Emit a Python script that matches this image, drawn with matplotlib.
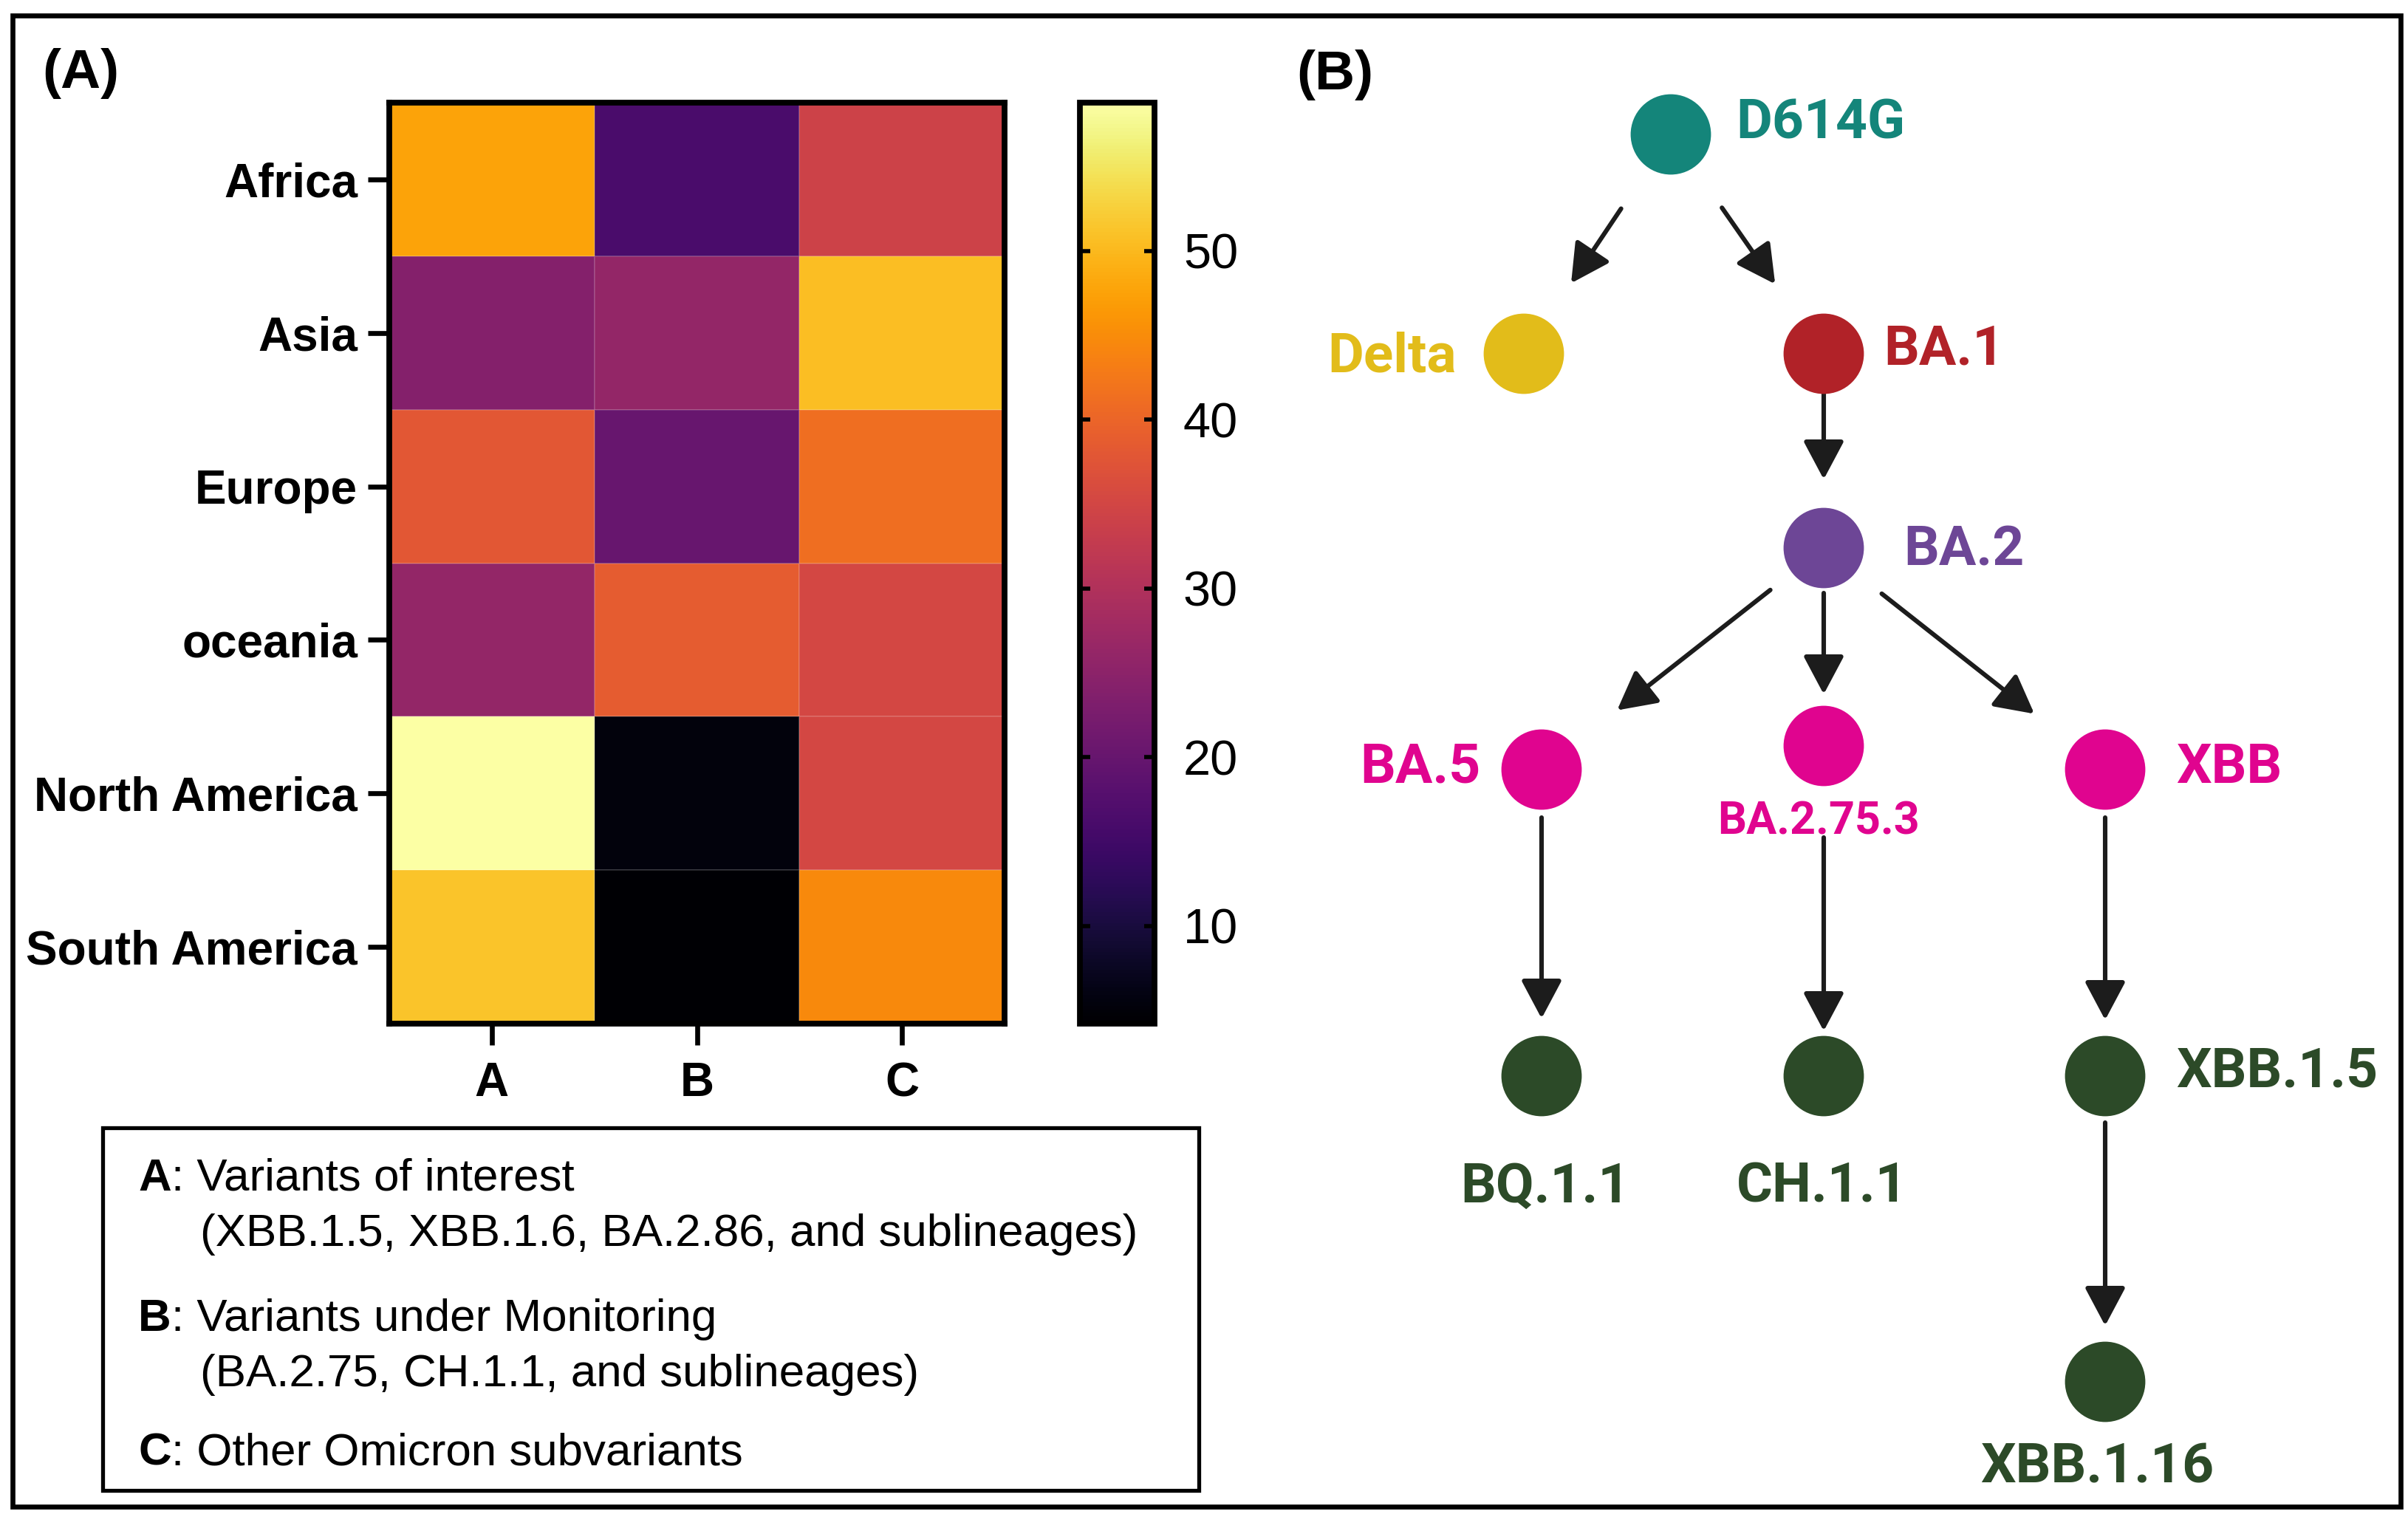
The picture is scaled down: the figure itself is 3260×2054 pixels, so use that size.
import numpy as np
import matplotlib.pyplot as plt
from matplotlib.patches import Circle, Rectangle, FancyArrowPatch

# ---- panel A data ----
regions = ['Africa', 'Asia', 'Europe', 'oceania', 'North America', 'South America']
groups = ['A', 'B', 'C']
vals_A = [47.5, 23.9, 38.0, 26.0, 58.8, 51.2]
vals_B = [16.2, 26.0, 20.0, 38.6, 5.3, 4.2]
vals_C = [34.2, 50.6, 41.3, 35.3, 35.3, 44.6]
cbar_ticks = [10, 20, 30, 40, 50]
vmin, vmax = 4.2, 58.8

legend_keys = ['A', 'B', 'C']
legend_titles = ['Variants of interest', 'Variants under Monitoring', 'Other Omicron subvariants']
legend_notes = ['(XBB.1.5, XBB.1.6, BA.2.86, and sublineages)',
                '(BA.2.75, CH.1.1, and sublineages)', '']

# ---- panel B data (lineage tree) ----
variants = ['D614G', 'Delta', 'BA.1', 'BA.2', 'BA.5', 'BA.2.75.3', 'XBB',
            'BQ.1.1', 'CH.1.1', 'XBB.1.5', 'XBB.1.16']
parents = [None, 'D614G', 'D614G', 'BA.1', 'BA.2', 'BA.2', 'BA.2',
           'BA.5', 'BA.2.75.3', 'XBB', 'XBB.1.5']

# layout of the tree (pixel positions on the canvas)
node_x = [2262, 2063, 2469, 2469, 2087, 2469, 2850, 2087, 2469, 2850, 2850]
node_y = [182, 479, 479, 742, 1042, 1010, 1042, 1457, 1457, 1457, 1871]
node_col = ['#14857a', '#e2bc1a', '#b12228', '#6d4696', '#e0048f', '#e0048f', '#e0048f',
            '#2c4a28', '#2c4a28', '#2c4a28', '#2c4a28']
# label offset from node centre (dx, dy to baseline, alignment)
lab_dx = [88, -91, 81, 108, -83, -7, 96, 5, -2, 96, -11]
lab_dy = [6, 25, 14, 23, 18, 119, 18, 171, 171, 15, 137]
lab_ha = ['left', 'right', 'left', 'left', 'right', 'center', 'left',
          'center', 'center', 'left', 'center']
# gap between arrow ends and node centres (start, end)
gap_a = [121, 121, 54, 92, 61, 100, 65, 124, 65, 63]
gap_b = [115, 115, 93, 130, 70, 122, 78, 61, 76, 76]

W, H = 3260, 2054
fig = plt.figure(figsize=(W / 200, H / 200), dpi=200)
fig.patch.set_facecolor('white')

# heatmap
data = np.array([vals_A, vals_B, vals_C]).T
ax = fig.add_axes([527 / W, 1 - 1386 / H, (1360 - 527) / W, (1386 - 139) / H])
mesh = ax.pcolormesh(data, cmap='inferno', vmin=vmin, vmax=vmax,
                     edgecolor=(1, 1, 1, 0.12), linewidth=0.6)
ax.set_xlim(0, 3)
ax.set_ylim(6, 0)
ax.set_xticks(np.arange(3) + 0.5)
ax.set_xticklabels(groups)
ax.set_yticks(np.arange(6) + 0.5)
ax.set_yticklabels(regions)
for lab in ax.get_xticklabels() + ax.get_yticklabels():
    lab.set_fontfamily('Liberation Sans')
    lab.set_fontweight('bold')
    lab.set_fontsize(23)
ax.tick_params(axis='y', length=10.5, width=2.4, pad=5)
ax.tick_params(axis='x', length=10.5, width=2.4, pad=8)
for s in ax.spines.values():
    s.set_linewidth(2.8)

# colorbar
cax = fig.add_axes([1462 / W, 1 - 1386 / H, (1563 - 1462) / W, (1386 - 139) / H])
cb = fig.colorbar(mesh, cax=cax)
cb.set_ticks(cbar_ticks)
cb.outline.set_linewidth(2.8)
cax.tick_params(direction='in', left=True, right=True, length=5, width=2,
                labelsize=24, pad=14)
for lab in cax.get_yticklabels():
    lab.set_fontfamily('Liberation Sans')

# overlay in pixel coordinates
ov = fig.add_axes([0, 0, 1, 1])
ov.set_xlim(0, W)
ov.set_ylim(H, 0)
ov.axis('off')
ov.patch.set_alpha(0)

ov.add_patch(Rectangle((17, 21), 3233, 2019, fill=False, lw=2.4, ec='black'))
ov.text(57, 100, '(A)', fontfamily='Liberation Sans', fontweight='bold',
        fontsize=27, ha='left', va='center')
ov.text(1755, 102, '(B)', fontfamily='Liberation Sans', fontweight='bold',
        fontsize=27, ha='left', va='center')

# legend box
ov.add_patch(Rectangle((139, 1527), 1484, 491, fill=False, lw=1.9, ec='black'))
base_y = [1612, 1802, 1984]
for k, (key, title, note) in enumerate(zip(legend_keys, legend_titles, legend_notes)):
    t = ov.text(187, base_y[k], key, fontfamily='Liberation Sans', fontweight='bold',
                fontsize=22.3, ha='left', va='baseline')
    ov.annotate(': ' + title, xy=(1, 0), xycoords=t, ha='left', va='bottom',
                fontfamily='Liberation Sans', fontsize=22.3)
    if note:
        ov.text(271, base_y[k] + 75, note, fontfamily='Liberation Sans',
                fontsize=22.3, ha='left', va='baseline')

# tree arrows
pos = {v: (x, y) for v, x, y in zip(variants, node_x, node_y)}
e = 0
for v, p in zip(variants, parents):
    if p is None:
        continue
    x0, y0 = pos[p]
    x1, y1 = pos[v]
    d = np.hypot(x1 - x0, y1 - y0)
    ux, uy = (x1 - x0) / d, (y1 - y0) / d
    arr = FancyArrowPatch((x0 + ux * gap_a[e], y0 + uy * gap_a[e]),
                          (x1 - ux * gap_b[e], y1 - uy * gap_b[e]),
                          arrowstyle='-|>,head_length=16,head_width=8.5',
                          shrinkA=0, shrinkB=0, lw=2.2, color='#1c1c1c',
                          mutation_scale=1, zorder=2)
    ov.add_patch(arr)
    e += 1

# tree nodes and labels
for i, v in enumerate(variants):
    ov.add_patch(Circle((node_x[i], node_y[i]), 53, color=node_col[i], zorder=3))
    size = 22 if v == 'BA.2.75.3' else 27
    ov.text(node_x[i] + lab_dx[i], node_y[i] + lab_dy[i], v, color=node_col[i],
            fontfamily='Roboto', fontweight='bold', fontsize=size,
            ha=lab_ha[i], va='baseline', zorder=4)

fig.savefig('out.png', dpi=200)
